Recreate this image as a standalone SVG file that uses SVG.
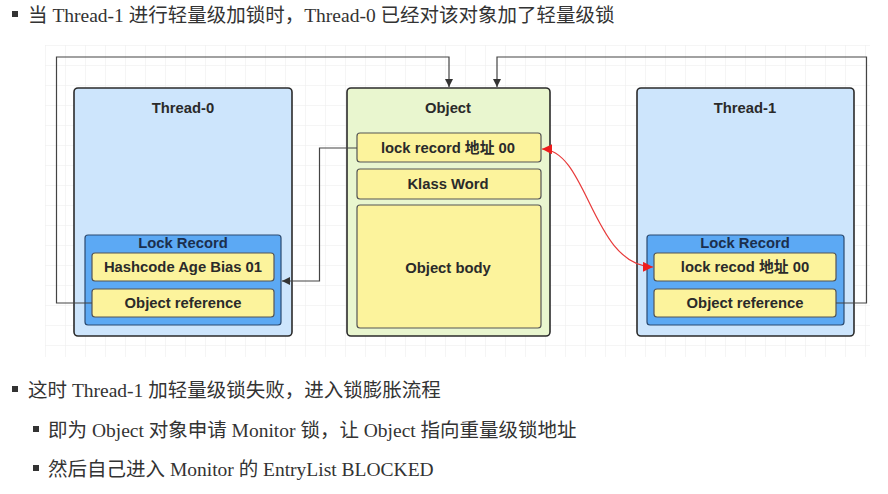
<svg xmlns="http://www.w3.org/2000/svg" width="888" height="494" viewBox="0 0 888 494">
<defs>
<style>
.bul{font-family:"Liberation Serif","Noto Sans CJK SC",serif;font-size:19.5px;fill:#333}
.lbl{font-family:"Liberation Sans","Noto Sans CJK SC",sans-serif;font-size:14.8px;font-weight:bold;fill:#2a2a2a;text-anchor:middle}
.lrt{fill:#1b2f4d}
.thread{fill:#cde5fc;stroke:#2b2b2b;stroke-width:1.6}
.lr{fill:#5ca9f4;stroke:#2b4a70;stroke-width:1.2}
.field{fill:#fcf39c;stroke:#555;stroke-width:1.2}
.obj{fill:#e9f6cf;stroke:#2b2b2b;stroke-width:1.6}
.conn{fill:none;stroke:#444;stroke-width:1.2}
.red{fill:none;stroke:#e83a3a;stroke-width:1.2}
.sq{fill:#333}
</style>
<pattern id="grid" width="20" height="20" patternUnits="userSpaceOnUse" x="45" y="45">
<path d="M20 0H0V20" fill="none" stroke="#ececec" stroke-width="1"/>
</pattern>
<marker id="ah" viewBox="0 0 10 10" refX="10" refY="5" markerWidth="8" markerHeight="8" orient="auto-start-reverse" markerUnits="userSpaceOnUse">
<path d="M0 0L10 5L0 10z" fill="#333"/>
</marker>
<marker id="rh" viewBox="0 0 10 10" refX="10" refY="5" markerWidth="10" markerHeight="10" orient="auto-start-reverse" markerUnits="userSpaceOnUse">
<path d="M0 0L10 5L0 10z" fill="#ee1c1c"/>
</marker>
</defs>
<rect width="888" height="494" fill="#fff"/>
<rect x="45" y="45" width="825" height="312" fill="url(#grid)"/>

<g id="text-top">
<rect class="sq" x="12" y="11" width="6" height="6"/>
<text class="bul" x="28" y="22">当 Thread-1 进行轻量级加锁时，Thread-0 已经对该对象加了轻量级锁</text>
</g>

<g id="thread0">
<rect class="thread" x="74" y="88" width="218" height="248" rx="4"/>
<text class="lbl" x="183" y="113">Thread-0</text>
<rect class="lr" x="85" y="235" width="196" height="90" rx="3"/>
<text class="lbl lrt" x="183" y="248">Lock Record</text>
<rect class="field" x="92" y="253" width="182" height="28" rx="3"/>
<text class="lbl" x="183" y="272">Hashcode Age Bias 01</text>
<rect class="field" x="92" y="289" width="182" height="28" rx="3"/>
<text class="lbl" x="183" y="308">Object reference</text>
</g>

<g id="object">
<rect class="obj" x="347" y="88" width="203" height="248" rx="4"/>
<text class="lbl" x="448" y="113">Object</text>
<rect class="field" x="357" y="133" width="184" height="29" rx="3"/>
<text class="lbl" x="448" y="153">lock  record 地址 00</text>
<rect class="field" x="357" y="169" width="184" height="30" rx="3"/>
<text class="lbl" x="448" y="189">Klass Word</text>
<rect class="field" x="357" y="205" width="184" height="123" rx="3"/>
<text class="lbl" x="448" y="273">Object body</text>
</g>

<g id="thread1">
<rect class="thread" x="637" y="88" width="217" height="248" rx="4"/>
<text class="lbl" x="745" y="113">Thread-1</text>
<rect class="lr" x="647" y="235" width="197" height="90" rx="3"/>
<text class="lbl lrt" x="745" y="248">Lock Record</text>
<rect class="field" x="654" y="253" width="182" height="28" rx="3"/>
<text class="lbl" x="745" y="272">lock recod 地址 00</text>
<rect class="field" x="654" y="289" width="182" height="28" rx="3"/>
<text class="lbl" x="745" y="308">Object reference</text>
</g>

<g id="connectors">
<path class="conn" d="M92 303H56.5V57H449V87" marker-end="url(#ah)"/>
<path class="conn" d="M836 303H866.5V57H497V87" marker-end="url(#ah)"/>
<path class="conn" d="M357 148H319.5V281H282" marker-end="url(#ah)"/>
<path class="red" d="M542 149C588 150 592 266 653 267" marker-start="url(#rh)" marker-end="url(#rh)"/>
</g>

<g id="text-bottom">
<rect class="sq" x="12" y="386" width="6" height="6"/>
<text class="bul" x="28" y="397">这时 Thread-1 加轻量级锁失败，进入锁膨胀流程</text>
<rect class="sq" x="33" y="426" width="6" height="6"/>
<text class="bul" x="48" y="437">即为 Object 对象申请 Monitor 锁，让 Object 指向重量级锁地址</text>
<rect class="sq" x="33" y="465" width="6" height="6"/>
<text class="bul" x="48" y="476">然后自己进入 Monitor 的 EntryList BLOCKED</text>
</g>
</svg>
